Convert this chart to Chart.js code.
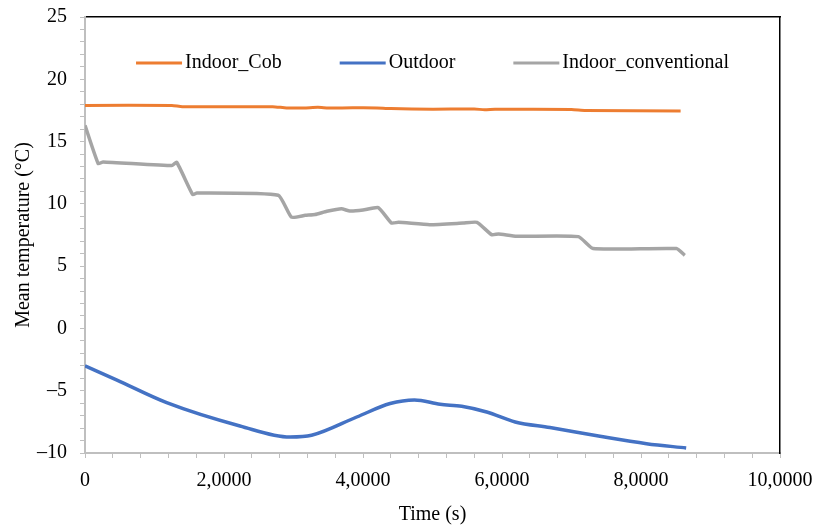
<!DOCTYPE html>
<html>
<head>
<meta charset="utf-8">
<script src="https://cdn.jsdelivr.net/npm/chart.js@4.4.1/dist/chart.umd.min.js"></script>
<style>
  body { margin: 0; background: #fff; }
</style>
</head>
<body>
<canvas id="line-chart" width="816" height="532"></canvas>
<script>
// time in seconds, mean temperature in °C
var cobTime = [0, 12500, 14000, 27000, 29000, 31500, 33500, 35000, 37000, 40000, 42000, 44000, 50000, 56000, 57500, 59000, 70000, 72000, 85700];
var cobTemp = [17.9, 17.9, 17.8, 17.8, 17.7, 17.7, 17.75, 17.7, 17.7, 17.72, 17.7, 17.65, 17.6, 17.62, 17.55, 17.6, 17.58, 17.5, 17.45];

var outTime = [0, 4600, 11750, 22300, 29500, 32600, 39100, 43900, 47400, 51100, 54200, 57800, 61900, 66900, 74100, 80800, 86500];
var outTemp = [-3.0, -4.15, -5.96, -7.83, -8.72, -8.58, -7.11, -6.03, -5.74, -6.09, -6.25, -6.71, -7.51, -7.96, -8.66, -9.25, -9.6];

var convTime = [0, 1900, 2600, 12500, 13200, 15500, 16100, 27800, 29700, 31700, 33100, 34800, 36900, 38100, 40000, 42200, 44100, 45100, 49600, 54400, 56400, 58500, 59500, 62100, 71000, 73100, 85100, 86300];
var convTemp = [16.3, 13.23, 13.36, 13.07, 13.33, 10.74, 10.87, 10.69, 8.94, 9.08, 9.14, 9.4, 9.6, 9.42, 9.5, 9.7, 8.46, 8.52, 8.33, 8.46, 8.52, 7.53, 7.58, 7.4, 7.37, 6.41, 6.41, 5.87];

var xTickLabels = ['0', '2,0000', '4,0000', '6,0000', '8,0000', '10,0000'];

function pts(xs, ys) {
  return xs.map(function (x, i) { return { x: x, y: ys[i] }; });
}

var serif = "'Liberation Serif', 'Times New Roman', serif";
var fs = 20;

// fixed axis sizes so the plot box lands where the original has it
function fixWidth(w) {
  return function (s) { s.width = w; s.paddingTop = 0; s.paddingBottom = 0; };
}
function fixHeight(h) {
  return function (s) { s.height = h; s.paddingLeft = 0; s.paddingRight = 0; };
}

// legend drawn inside the plot, like the original
var innerLegend = {
  id: 'innerLegend',
  afterDatasetsDraw: function (chart) {
    var ctx = chart.ctx, area = chart.chartArea;
    var sets = chart.data.datasets;
    var lineLen = 46, gapText = 3, gapItem = 58;
    ctx.save();
    ctx.font = fs + 'px ' + serif;
    var widths = sets.map(function (d) { return lineLen + gapText + ctx.measureText(d.label).width; });
    var total = widths.reduce(function (a, b) { return a + b; }, 0) + gapItem * (sets.length - 1);
    var x = (area.left + area.right) / 2 - total / 2;
    var y = area.top + 46;
    sets.forEach(function (d, i) {
      ctx.strokeStyle = d.borderColor;
      ctx.lineWidth = 3;
      ctx.beginPath();
      ctx.moveTo(x, y);
      ctx.lineTo(x + lineLen, y);
      ctx.stroke();
      ctx.fillStyle = '#000';
      ctx.textBaseline = 'middle';
      ctx.fillText(d.label, x + lineLen + gapText, y);
      x += widths[i] + gapItem;
    });
    ctx.restore();
  }
};

new Chart(document.getElementById("line-chart"), {
  type: 'line',
  data: {
    datasets: [{
        label: 'Indoor_Cob',
        data: pts(cobTime, cobTemp),
        borderColor: '#ED7D31',
        borderWidth: 3,
        tension: 0.2,
        pointRadius: 0,
        fill: false
      }, {
        label: 'Outdoor',
        data: pts(outTime, outTemp),
        borderColor: '#4472C4',
        borderWidth: 3.5,
        cubicInterpolationMode: 'monotone',
        pointRadius: 0,
        fill: false
      }, {
        label: 'Indoor_conventional',
        data: pts(convTime, convTemp),
        borderColor: '#A5A5A5',
        borderWidth: 3.5,
        tension: 0.15,
        pointRadius: 0,
        fill: false
      }
    ]
  },
  options: {
    responsive: false,
    animation: false,
    layout: { padding: { top: 17, right: 36, left: 0, bottom: 0 } },
    plugins: {
      legend: { display: false },
      tooltip: { enabled: false }
    },
    scales: {
      x: {
        type: 'linear',
        min: 0,
        max: 100000,
        afterFit: fixHeight(79),
        ticks: {
          stepSize: 4000,
          autoSkip: false,
          maxRotation: 0,
          padding: 11,
          color: '#000',
          font: { family: serif, size: fs },
          callback: function (v) { return v % 20000 === 0 ? xTickLabels[v / 20000] : ''; }
        },
        grid: { drawOnChartArea: false, drawTicks: true, tickLength: 5, color: '#bfbfbf' },
        border: { color: '#bfbfbf', width: 2 },
        title: { display: true, text: 'Time (s)', color: '#000', font: { family: serif, size: fs }, padding: { top: 0, bottom: 5 } }
      },
      x2: {
        type: 'linear',
        position: 'top',
        min: 0,
        max: 100000,
        afterFit: fixHeight(0),
        ticks: { display: false },
        grid: { display: false, drawTicks: false },
        border: { color: '#000', width: 1.5 }
      },
      y: {
        min: -10,
        max: 25,
        afterFit: fixWidth(85),
        ticks: {
          stepSize: 1,
          autoSkip: false,
          padding: 13,
          color: '#000',
          font: { family: serif, size: fs },
          callback: function (v) { return v % 5 === 0 ? String(v).replace('-', '\u2013') : ''; }
        },
        grid: { drawOnChartArea: false, drawTicks: true, tickLength: 5, color: '#bfbfbf' },
        border: { color: '#bfbfbf', width: 2 },
        title: { display: true, text: 'Mean temperature (\u00b0C)', color: '#000', font: { family: serif, size: fs }, padding: { top: 12, bottom: 0 } }
      },
      y2: {
        position: 'right',
        min: -10,
        max: 25,
        afterFit: fixWidth(0),
        ticks: { display: false },
        grid: { display: false, drawTicks: false },
        border: { color: '#000', width: 1.5 }
      }
    }
  },
  plugins: [innerLegend]
});
</script>
</body>
</html>
